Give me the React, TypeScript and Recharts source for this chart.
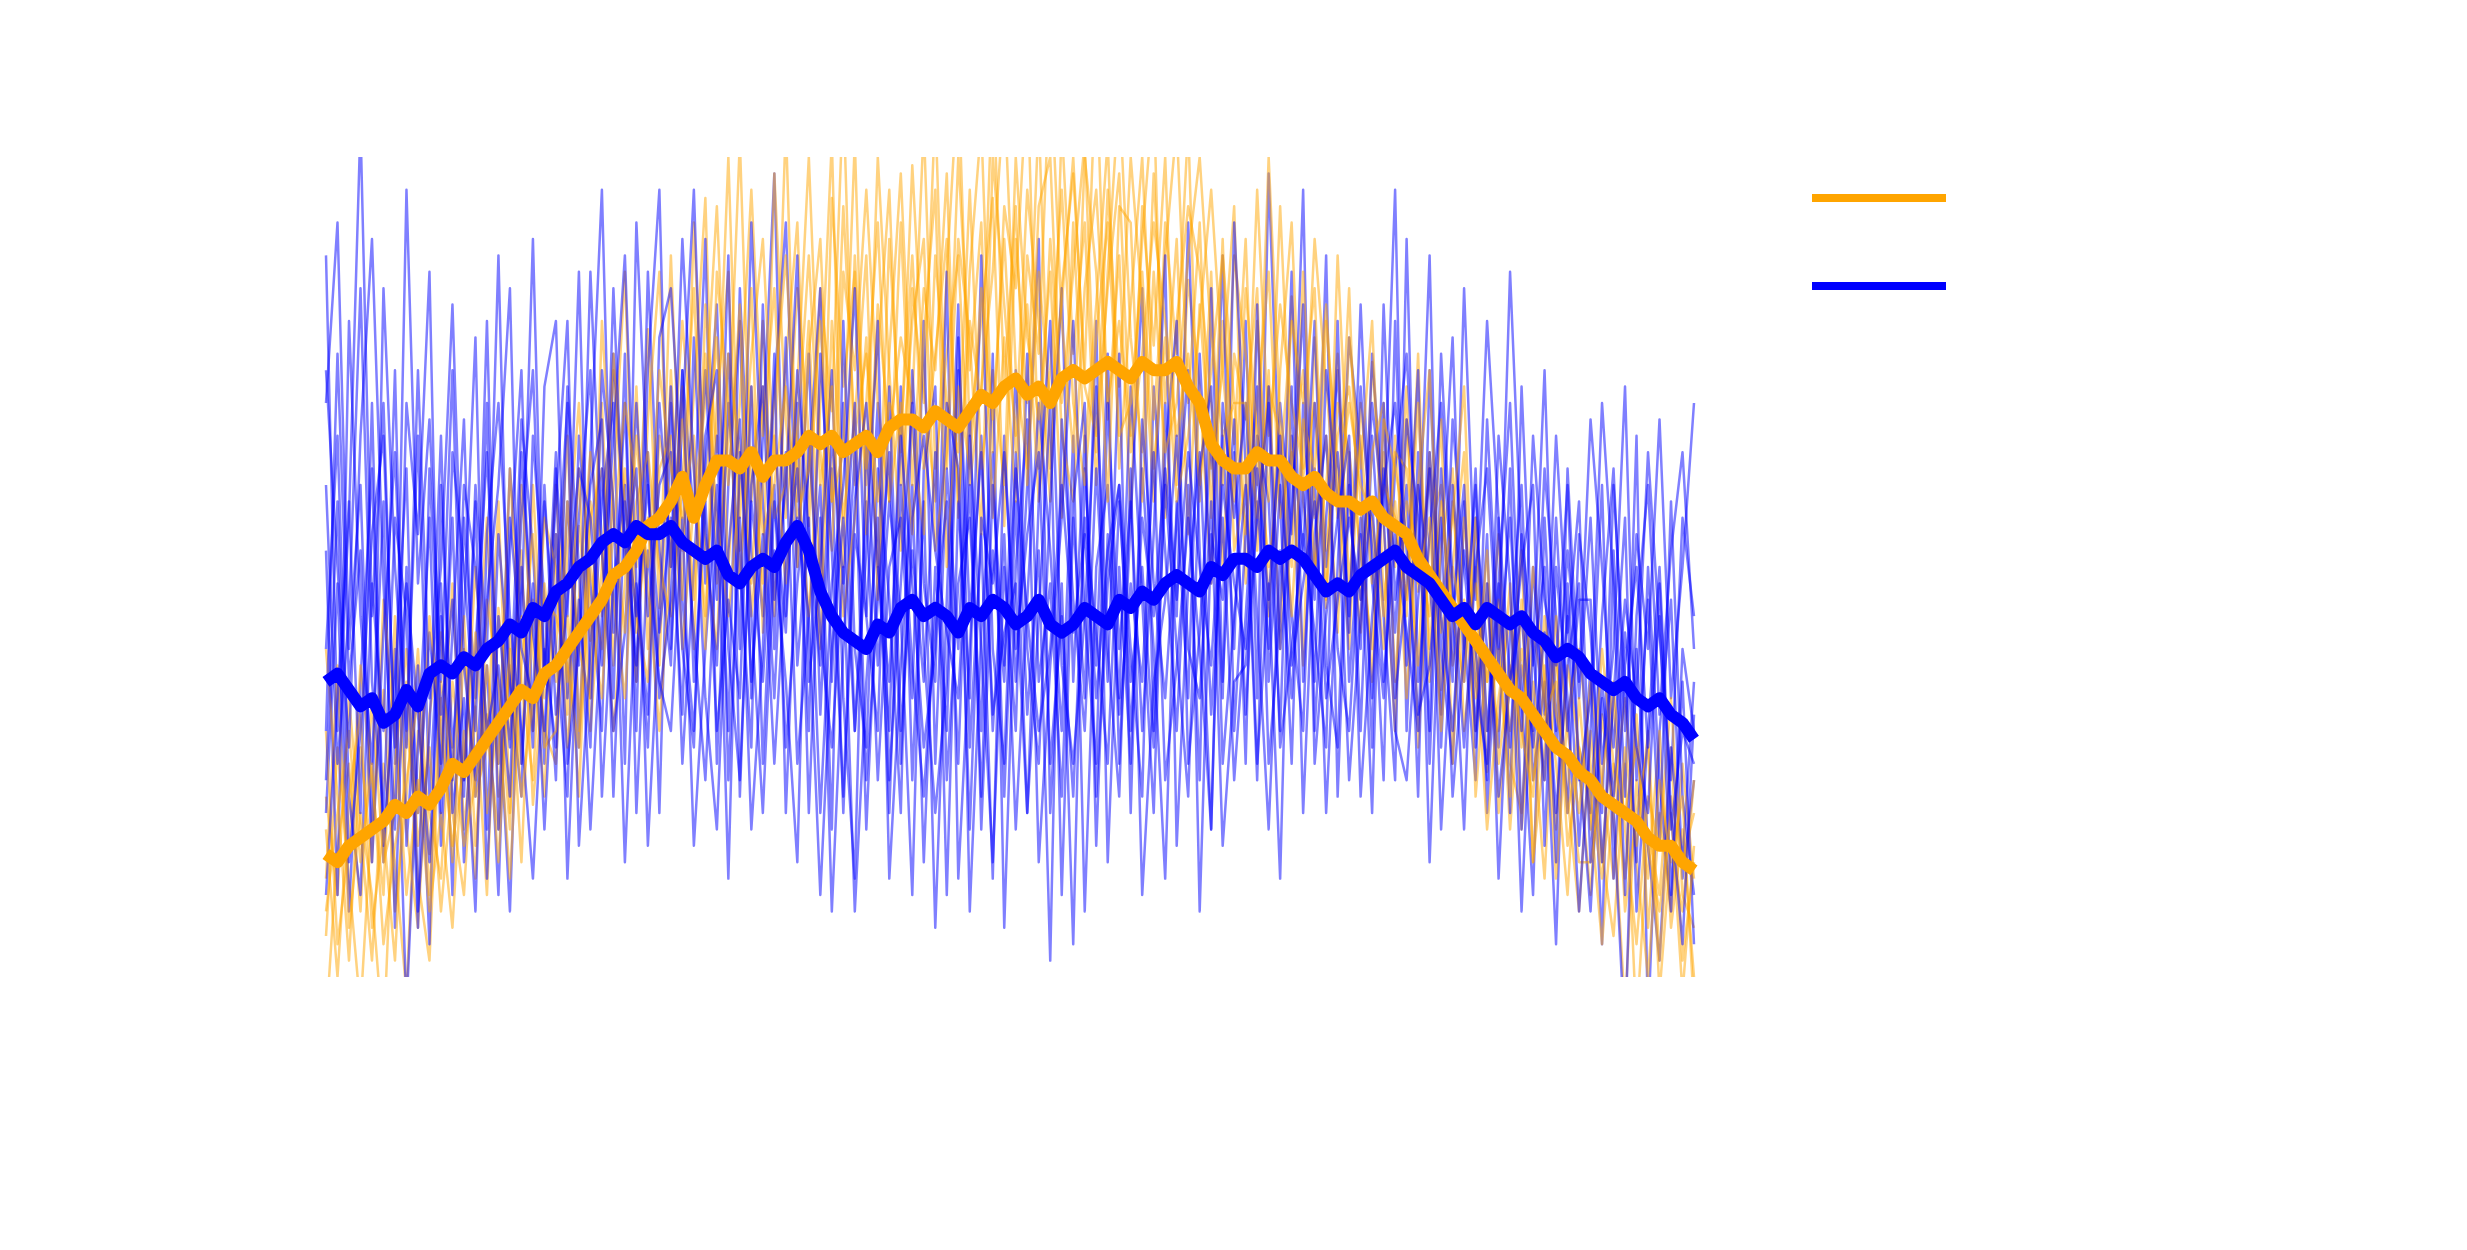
import { LineChart, Line, XAxis, YAxis, Legend } from 'recharts'

// x positions (sample index)
const steps = Array.from({ length: 120 }, (_, i) => i)

// individual orange runs
const orange1 = [
  5, 28, 12, -4, 20, 35, 8, 22, 40, 15,
  26, 48, 18, 33, 10, 45, 29, 52, 21, 38,
  60, 32, 55, 41, 70, 38, 62, 50, 79, 45,
  88, 52, 71, 95, 48, 66, 102, 58, 80, 44,
  75, 92, 55, 84, 69, 108, 60, 78, 50, 90,
  64, 99, 72, 58, 86, 110, 66, 80, 95, 55,
  90, 70, 105, 62, 84, 98, 74, 112, 68, 88,
  56, 94, 77, 100, 60, 85, 72, 48, 80, 65,
  90, 52, 74, 40, 83, 61, 70, 45, 88, 58,
  42, 75, 55, 30, 68, 47, 62, 35, 58, 40,
  50, 25, 44, 18, 38, 30, 12, 40, 22, 8,
  30, 15, 5, 26, -6, 18, 10, 28, 2, 14,
]
const orange2 = [
  22, 10, 34, 18, 2, 26, 14, -2, 30, 20,
  12, 36, 24, 50, 30, 18, 42, 26, 60, 34,
  40, 66, 30, 58, 44, 74, 52, 36, 68, 86,
  50, 72, 40, 82, 64, 100, 56, 76, 90, 62,
  104, 58, 80, 47, 95, 72, 86, 60, 100, 74,
  52, 84, 70, 106, 62, 90, 78, 54, 100, 82,
  66, 96, 80, 58, 104, 76, 92, 60, 86, 108,
  78, 64, 98, 70, 90, 54, 82, 62, 74, 94,
  48, 70, 86, 56, 64, 38, 78, 52, 66, 72,
  58, 36, 64, 50, 72, 28, 54, 60, 38, 46,
  30, 48, 20, 36, 52, 14, 28, 40, 16, 26,
  10, 32, 20, -4, 24, 12, 30, 6, 18, 0,
]
const orange3 = [
  30, 4, 16, 38, 24, 10, 44, 18, 6, 32,
  42, 20, 10, 34, 56, 22, 38, 14, 46, 30,
  26, 52, 70, 44, 34, 60, 86, 42, 56, 38,
  74, 46, 92, 58, 78, 50, 70, 96, 66, 84,
  56, 72, 100, 64, 52, 86, 74, 96, 70, 58,
  92, 60, 84, 74, 98, 56, 86, 104, 64, 94,
  84, 110, 62, 90, 70, 86, 102, 64, 96, 72,
  100, 82, 58, 92, 76, 104, 58, 86, 50, 76,
  68, 84, 44, 74, 92, 58, 48, 80, 62, 40,
  70, 54, 40, 66, 44, 76, 36, 52, 62, 30,
  44, 36, 54, 26, 20, 42, 34, 18, 38, 28,
  20, 4, 22, 34, 14, 0, 20, 8, 26, 12,
]
const orange4 = [
  -6, 16, 26, 8, 34, 14, 20, 36, 12, 2,
  34, 14, 40, 22, 28, 58, 20, 44, 30, 56,
  50, 28, 46, 64, 52, 30, 48, 72, 40, 66,
  58, 80, 62, 44, 70, 86, 52, 64, 48, 98,
  68, 50, 76, 90, 58, 64, 102, 54, 82, 66,
  78, 70, 104, 62, 76, 88, 60, 72, 86, 108,
  74, 62, 94, 100, 66, 58, 84, 96, 70, 80,
  66, 90, 108, 56, 80, 94, 86, 70, 60, 88,
  76, 60, 100, 68, 50, 86, 56, 66, 42, 78,
  62, 80, 46, 58, 34, 60, 74, 42, 50, 64,
  22, 40, 30, 48, 18, 36, 24, 44, 30, 20,
  36, 24, 12, 28, 16, 30, 2, 22, 14, 20,
]
const orange5 = [
  12, 38, 6, 20, 10, -8, 26, 40, 16, 28,
  8, 24, 44, 16, 38, 26, 62, 36, 24, 48,
  36, 44, 22, 56, 62, 46, 34, 58, 64, 50,
  44, 60, 84, 52, 40, 76, 64, 48, 72, 56,
  60, 84, 66, 40, 80, 56, 68, 88, 46, 76,
  98, 66, 54, 88, 70, 64, 96, 62, 74, 60,
  100, 78, 68, 86, 56, 92, 64, 82, 102, 62,
  82, 100, 68, 88, 104, 70, 92, 56, 90, 52,
  60, 96, 66, 82, 70, 62, 90, 72, 56, 84,
  46, 64, 70, 36, 58, 52, 44, 68, 26, 56,
  40, 18, 34, 44, 28, 50, 36, 12, 32, 40,
  26, 14, 34, 8, 20, 28, -2, 16, 8, 24,
]
const orange6 = [
  40, 22, 2, 28, 14, 46, 30, 10, 24, 8,
  20, 6, 30, 12, 46, 36, 18, 60, 40, 22,
  54, 36, 62, 30, 50, 76, 58, 44, 36, 62,
  66, 40, 58, 70, 94, 60, 82, 44, 60, 70,
  88, 62, 44, 70, 102, 50, 88, 62, 76, 96,
  60, 80, 90, 52, 64, 100, 74, 92, 56, 78,
  58, 88, 76, 112, 80, 64, 100, 86, 58, 94,
  92, 58, 86, 64, 70, 88, 100, 78, 66, 70,
  54, 80, 58, 94, 62, 74, 50, 60, 76, 48,
  66, 48, 60, 56, 46, 70, 40, 58, 44, 36,
  56, 30, 40, 22, 46, 14, 38, 26, 10, 34,
  18, 40, 26, 12, 32, 6, 24, 14, 22, -4,
]
const orange7 = [
  18, 0, 22, 32, 6, 18, 2, 30, 20, 44,
  30, 16, 26, 42, 20, 32, 12, 38, 54, 28,
  30, 58, 40, 34, 80, 56, 42, 66, 48, 30,
  52, 68, 46, 76, 56, 44, 60, 84, 42, 66,
  48, 66, 88, 60, 72, 44, 56, 70, 92, 58,
  70, 54, 78, 96, 50, 72, 62, 84, 68, 90,
  64, 82, 58, 74, 96, 70, 60, 78, 92, 66,
  70, 86, 62, 78, 58, 66, 80, 96, 74, 58,
  84, 66, 50, 62, 80, 70, 84, 46, 70, 64,
  52, 40, 68, 62, 54, 38, 64, 46, 56, 72,
  34, 52, 26, 38, 30, 22, 44, 32, 26, 14,
  14, 24, 36, 18, 4, 22, 16, 34, 10, 6,
]
const orange8 = [
  8, 20, 30, 14, 26, 4, 16, 24, 34, 10,
  36, 28, 16, 24, 32, 14, 40, 22, 34, 46,
  44, 38, 28, 50, 40, 54, 70, 60, 50, 74,
  62, 56, 66, 40, 86, 70, 48, 72, 54, 60,
  72, 56, 62, 80, 58, 94, 66, 76, 58, 70,
  66, 88, 62, 76, 90, 58, 80, 70, 110, 72,
  94, 60, 86, 70, 82, 100, 72, 66, 84, 98,
  64, 76, 92, 80, 66, 76, 60, 74, 88, 70,
  70, 56, 72, 66, 44, 68, 62, 82, 58, 70,
  60, 56, 44, 64, 62, 48, 56, 30, 50, 42,
  48, 36, 46, 30, 40, 24, 32, 36, 20, 28,
  22, 12, 26, 20, 28, 16, 8, 20, -2, 16,
]

// individual blue runs
const blue1 = [
  70, 92, 40, 60, 18, 84, 50, 30, 66, 22,
  48, 10, 56, 34, 80, 26, 62, 44, 90, 36,
  58, 80, 28, 64, 96, 42, 70, 30, 86, 52,
  38, 74, 56, 90, 26, 60, 80, 34, 66, 98,
  44, 70, 20, 56, 8, 40, 64, 18, 50, 30,
  72, 24, 58, 6, 46, 82, 28, 54, 12, 66,
  36, 60, 90, 20, 48, 4, 62, 38, 76, 26,
  56, 84, 30, 70, 44, 92, 52, 18, 66, 40,
  80, 34, 98, 58, 26, 70, 46, 88, 22, 60,
  40, 76, 56, 96, 30, 64, 14, 52, 78, 36,
  62, 20, 48, 70, 34, 10, 56, 28, 44, 16,
  38, 4, 52, 22, 66, -6, 30, 46, 12, 24,
]
const blue2 = [
  20, 48, 8, 36, 62, 14, 40, -4, 28, 56,
  16, 42, 68, 22, 38, 10, 52, 74, 30, 58,
  40, 22, 66, 48, 30, 76, 54, 38, 64, 20,
  70, 46, 30, 62, 82, 40, 24, 58, 44, 72,
  92, 50, 76, 32, 62, 20, 54, 44, 70, 12,
  38, 60, 14, 50, 30, 74, 8, 42, 64, 22,
  58, 20, 44, 70, 10, 56, 34, 80, 14, 50,
  26, 62, 40, 12, 58, 34, 76, 48, 88, 30,
  54, 72, 26, 44, 86, 36, 62, 20, 50, 78,
  64, 28, 82, 46, 60, 22, 74, 40, 26, 58,
  30, 54, 12, 42, 60, 24, 36, 4, 48, 26,
  8, 34, 20, -8, 40, 16, 2, 28, 14, 36,
]
const blue3 = [
  88, 30, 56, 104, 44, 70, 26, 96, 48, 68,
  36, 74, 24, 60, 40, 88, 32, 68, 52, 26,
  62, 44, 86, 34, 58, 70, 26, 92, 60, 42,
  56, 32, 78, 48, 66, 30, 84, 52, 36, 60,
  28, 48, 62, 84, 36, 70, 30, 58, 24, 50,
  56, 34, 80, 26, 62, 40, 70, 18, 52, 36,
  74, 40, 26, 58, 84, 36, 66, 22, 48, 60,
  40, 22, 72, 52, 30, 60, 24, 84, 36, 64,
  32, 58, 40, 70, 54, 96, 30, 56, 74, 42,
  82, 48, 34, 62, 76, 50, 88, 28, 60, 42,
  24, 68, 40, 86, 52, 30, 62, 44, 20, 54,
  42, 20, 60, 36, 14, 50, 24, 8, 40, 30,
]
const blue4 = [
  40, 66, 22, 10, 48, 30, 74, 16, 38, 4,
  60, 28, 44, 78, 18, 54, 36, 22, 66, 46,
  24, 72, 50, 18, 44, 66, 88, 48, 32, 78,
  84, 60, 42, 24, 54, 76, 40, 92, 58, 34,
  64, 26, 44, 60, 18, 80, 40, 28, 62, 46,
  20, 74, 48, 36, 86, 12, 40, 66, 30, 54,
  18, 46, 70, 52, 30, 66, 8, 50, 60, 34,
  72, 46, 20, 64, 80, 26, 42, 66, 34, 92,
  62, 26, 48, 12, 66, 52, 80, 38, 28, 64,
  30, 66, 44, 24, 90, 36, 54, 70, 46, 18,
  56, 40, 28, 62, 18, 50, 32, 66, 42, 58,
  20, 44, 62, 30, 54, 40, 68, 34, 50, 70,
]
const blue5 = [
  52, 10, 80, 44, 26, 58, 6, 50, 20, 42,
  26, 56, 14, 40, 64, 34, 8, 50, 28, 72,
  80, 34, 56, 74, 22, 48, 60, 36, 74, 96,
  40, 68, 96, 54, 38, 70, 50, 28, 82, 46,
  60, 88, 36, 50, 74, 34, 12, 66, 38, 58,
  44, 10, 62, 72, 24, 48, 56, 30, 76, 6,
  50, 68, 14, 38, 56, 80, 44, 26, 70, 40,
  58, 30, 54, 88, 16, 48, 64, 32, 56, 24,
  44, 66, 58, 30, 72, 20, 54, 66, 40, 30,
  54, 20, 70, 34, 48, 74, 26, 62, 36, 84,
  46, 80, 56, 20, 72, 38, 50, 14, 62, 34,
  56, 26, 40, 72, 24, 46, 16, 58, 22, 10,
]
const blue6 = [
  10, 34, 58, 20, 70, 16, 36, 62, 8, 30,
  66, 20, 34, 8, 54, 70, 44, 30, 12, 40,
  28, 58, 38, 86, 52, 30, 42, 70, 44, 60,
  64, 26, 50, 74, 46, 88, 22, 60, 72, 40,
  78, 38, 56, 20, 48, 60, 84, 44, 30, 72,
  30, 52, 36, 64, 10, 58, 34, 88, 40, 26,
  64, 32, 52, 2, 68, 46, 30, 62, 36, 76,
  20, 68, 48, 34, 56, 74, 8, 54, 46, 68,
  26, 82, 36, 60, 44, 30, 70, 50, 64, 44,
  72, 52, 24, 80, 38, 60, 48, 32, 68, 50,
  36, 26, 66, 48, 8, 40, 74, 30, 52, 36,
  68, 50, 28, 46, 34, 64, 42, 24, 56, 44,
]
const blue7 = [
  30, 76, 36, 52, 14, 42, 64, 28, 74, 34,
  50, 82, 38, 24, 46, 60, 84, 26, 48, 18,
  46, 70, 16, 40, 62, 34, 76, 20, 52, 36,
  30, 56, 16, 40, 60, 12, 64, 44, 20, 52,
  36, 14, 66, 42, 28, 50, 8, 36, 56, 20,
  60, 38, 22, 44, 58, 26, 66, 40, 14, 50,
  30, 76, 36, 48, 22, 58, 70, 16, 54, 32,
  48, 36, 64, 24, 38, 56, 40, 18, 70, 56,
  70, 44, 18, 52, 34, 60, 36, 74, 58, 24,
  44, 70, 56, 30, 24, 46, 62, 18, 44, 60,
  28, 48, 22, 36, 50, 60, 16, 50, 34, 8,
  30, 60, 12, 38, 50, 28, 44, 10, 36, 4,
]
const blue8 = [
  60, 26, 44, 84, 36, 20, 56, 44, 6, 62,
  32, 46, 22, 58, 12, 44, 28, 56, 74, 36,
  64, 12, 46, 28, 74, 58, 14, 48, 28, 70,
  50, 90, 62, 34, 18, 52, 68, 36, 54, 26,
  50, 62, 30, 76, 52, 22, 58, 70, 50, 36,
  66, 48, 28, 40, 70, 62, 18, 56, 48, 64,
  40, 54, 64, 26, 44, 22, 56, 42, 26, 58,
  36, 50, 28, 60, 40, 22, 62, 72, 26, 44,
  60, 24, 72, 40, 56, 82, 26, 44, 56, 66,
  22, 44, 60, 70, 52, 32, 38, 56, 22, 40,
  60, 30, 48, 28, 54, 40, 24, 56, 30, 46,
  46, 14, 34, 56, 8, 30, 50, 20, 4, 32,
]
const blue9 = [
  74, 50, 28, 66, 90, 48, 18, 70, 54, 86,
  20, 64, 50, 30, 70, 18, 56, 40, 34, 60,
  32, 46, 62, 56, 38, 84, 50, 62, 16, 44,
  72, 40, 28, 66, 74, 24, 56, 18, 40, 76,
  20, 56, 44, 10, 40, 56, 30, 52, 80, 24,
  48, 70, 40, 20, 36, 78, 44, 64, 32, 42,
  48, 20, 58, 80, 38, 26, 44, 72, 40, 22,
  62, 10, 36, 46, 66, 40, 34, 58, 16, 36,
  38, 56, 70, 28, 40, 54, 42, 28, 80, 36,
  56, 34, 62, 42, 68, 56, 30, 76, 48, 28,
  50, 62, 38, 56, 30, 66, 46, 38, 60, 24,
  34, 70, 48, 10, 44, 60, 32, 52, 64, 40,
]
const blue10 = [
  24, 58, 14, 30, 54, 66, 28, 48, 32, 14,
  44, 24, 60, 50, 30, 38, 22, 64, 42, 30,
  54, 26, 40, 60, 68, 22, 58, 44, 60, 34,
  46, 74, 36, 58, 30, 46, 34, 72, 26, 58,
  42, 74, 54, 38, 66, 48, 70, 24, 46, 64,
  26, 56, 66, 52, 42, 34, 60, 22, 60, 38,
  62, 44, 30, 40, 60, 42, 54, 34, 52, 60,
  30, 56, 44, 62, 46, 64, 50, 38, 60, 48,
  40, 62, 46, 66, 38, 48, 58, 34, 46, 56,
  46, 58, 36, 54, 42, 30, 64, 44, 30, 52,
  40, 24, 56, 36, 44, 28, 42, 20, 38, 48,
  14, 36, 22, 42, 28, 20, 48, 18, 30, 26,
]

// mean curves (thick)
const orangeMean = [
  15, 14, 16, 17, 18, 19, 21, 20, 22, 21,
  23, 26, 25, 27, 29, 31, 33, 35, 34, 37,
  38, 40, 42, 44, 46, 49, 50, 52, 55, 56,
  58, 61, 56, 60, 63, 63, 62, 64, 61, 63,
  63, 64, 66, 65, 66, 64, 65, 66, 64, 67,
  68, 68, 67, 69, 68, 67, 69, 71, 70, 72,
  73, 71, 72, 70, 73, 74, 73, 74, 75, 74,
  73, 75, 74, 74, 75, 72, 70, 65, 63, 62,
  62, 64, 63, 63, 61, 60, 61, 59, 58, 58,
  57, 58, 56, 55, 54, 51, 49, 47, 45, 43,
  41, 39, 37, 35, 34, 32, 30, 28, 27, 25,
  24, 22, 21, 20, 19, 17, 16, 16, 14, 13,
]
const blueMean = [
  36, 37, 35, 33, 34, 31, 32, 35, 33, 37,
  38, 37, 39, 38, 40, 41, 43, 42, 45, 44,
  47, 48, 50, 51, 53, 54, 53, 55, 54, 54,
  55, 53, 52, 51, 52, 49, 48, 50, 51, 50,
  53, 55, 52, 47, 44, 42, 41, 40, 43, 42,
  45, 46, 44, 45, 44, 42, 45, 44, 46, 45,
  43, 44, 46, 43, 42, 43, 45, 44, 43, 46,
  45, 47, 46, 48, 49, 48, 47, 50, 49, 51,
  51, 50, 52, 51, 52, 51, 49, 47, 48, 47,
  49, 50, 51, 52, 50, 49, 48, 46, 44, 45,
  43, 45, 44, 43, 44, 42, 41, 39, 40, 39,
  37, 36, 35, 36, 34, 33, 34, 32, 31, 29,
]

const orangeRuns = [orange1, orange2, orange3, orange4, orange5, orange6, orange7, orange8]
const blueRuns = [blue1, blue2, blue3, blue4, blue5, blue6, blue7, blue8, blue9, blue10]

const ORANGE = '#FFA500'
const BLUE = '#0000FF'

const data = steps.map((x, i) => {
  const row: Record<string, number> = { x, om: orangeMean[i], bm: blueMean[i] }
  orangeRuns.forEach((r, k) => { row[`o${k}`] = r[i] })
  blueRuns.forEach((r, k) => { row[`b${k}`] = r[i] })
  return row
})

// interleave runs so neither colour sits entirely on top
const thinKeys: { key: string; color: string }[] = []
for (let k = 0; k < Math.max(orangeRuns.length, blueRuns.length); k++) {
  if (k < orangeRuns.length) thinKeys.push({ key: `o${k}`, color: ORANGE })
  if (k < blueRuns.length) thinKeys.push({ key: `b${k}`, color: BLUE })
}

function MeanLegend() {
  return (
    <svg width={420} height={130}>
      <line x1={0} y1={14} x2={134} y2={14} stroke={ORANGE} strokeWidth={8} />
      <text x={160} y={24} fill="#ffffff" fontSize={28} fontFamily="DejaVu Sans">Mean A</text>
      <line x1={0} y1={102} x2={134} y2={102} stroke={BLUE} strokeWidth={8} />
      <text x={160} y={112} fill="#ffffff" fontSize={28} fontFamily="DejaVu Sans">Mean B</text>
    </svg>
  )
}

export default function App() {
  return (
    <div style={{ position: 'absolute', left: 0, top: 0, width: 2467, height: 1250, background: '#ffffff' }}>
      <LineChart
        width={2467}
        height={1250}
        data={data}
        margin={{ top: 157, right: 773, bottom: 273, left: 326 }}
      >
        <XAxis dataKey="x" type="number" domain={[0, 119]} hide />
        <YAxis type="number" domain={[0, 100]} allowDataOverflow hide />
        {thinKeys.map(({ key, color }) => (
          <Line
            key={key}
            dataKey={key}
            stroke={color}
            strokeOpacity={0.5}
            strokeWidth={2.5}
            strokeLinejoin="round"
            dot={false}
            activeDot={false}
            type="linear"
            isAnimationActive={false}
          />
        ))}
        <Line dataKey="om" stroke={ORANGE} strokeWidth={12} strokeLinejoin="round" dot={false} activeDot={false} type="linear" isAnimationActive={false} />
        <Line dataKey="bm" stroke={BLUE} strokeWidth={12} strokeLinejoin="round" dot={false} activeDot={false} type="linear" isAnimationActive={false} />
        <Legend
          layout="horizontal"
          verticalAlign="middle"
          align="center"
          content={<MeanLegend />}
          wrapperStyle={{ position: 'absolute', left: 1812, top: 184, width: 420, height: 130 }}
        />
      </LineChart>
    </div>
  )
}
